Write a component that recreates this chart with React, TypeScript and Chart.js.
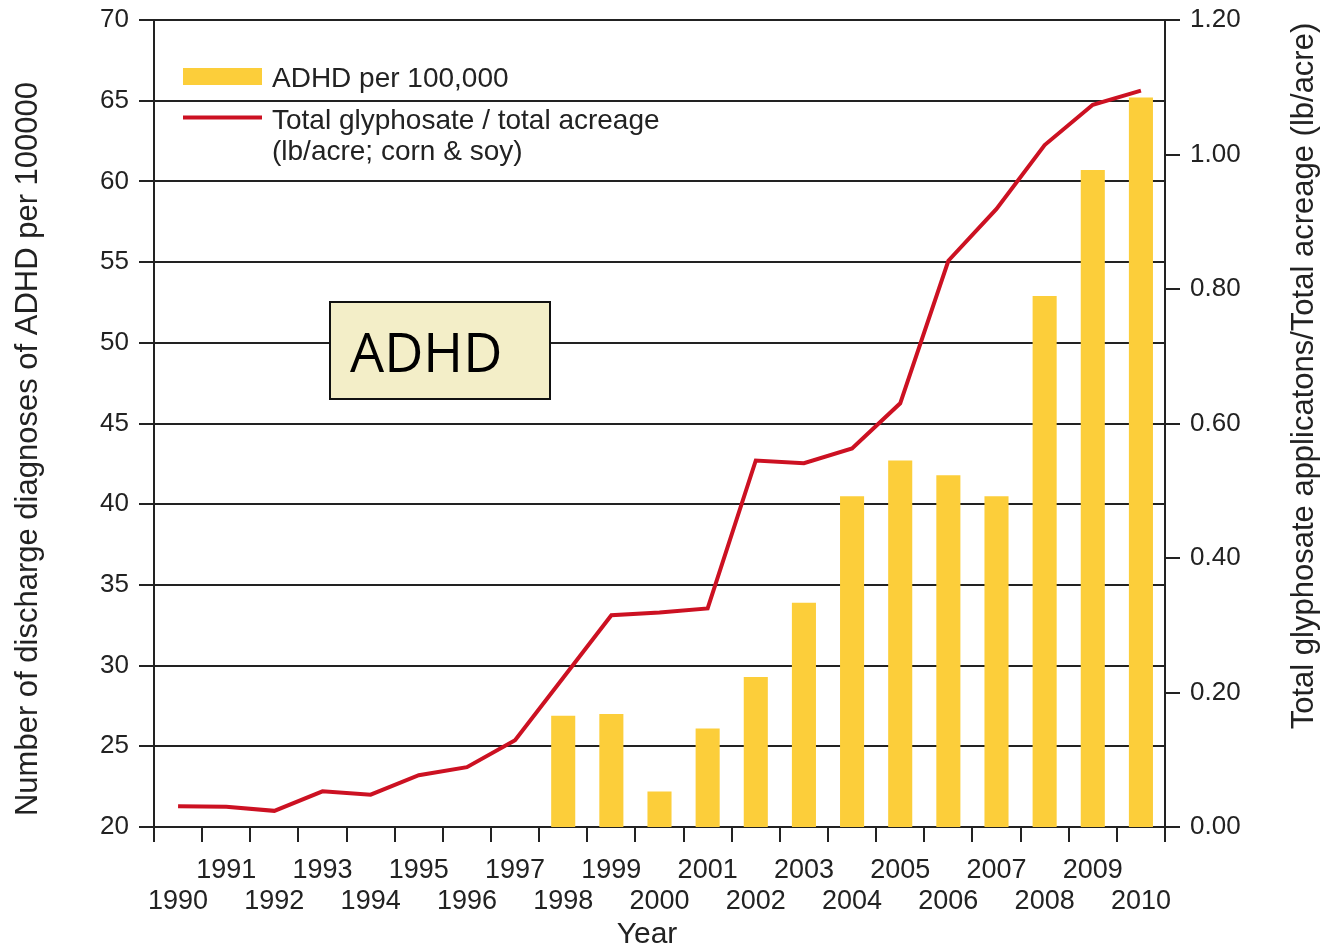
import React, { useEffect, useRef } from 'react';
import { Chart, registerables } from 'chart.js';

Chart.register(...registerables);

const years = [
  '1990', '1991', '1992', '1993', '1994', '1995', '1996', '1997', '1998', '1999', '2000',
  '2001', '2002', '2003', '2004', '2005', '2006', '2007', '2008', '2009', '2010',
];

const adhdPer100k = [
  null, null, null, null, null, null, null, null,
  26.9, 27.0, 22.2, 26.1, 29.3, 33.9, 40.5, 42.7, 41.8, 40.5, 52.9, 60.7, 65.2,
];

const glyphosatePerAcre = [
  0.031, 0.030, 0.024, 0.053, 0.048, 0.077, 0.089, 0.129, 0.222, 0.315, 0.319,
  0.325, 0.545, 0.541, 0.563, 0.630, 0.842, 0.919, 1.014, 1.074, 1.095,
];

const leftAxisRange = [20, 70, 5];
const rightAxisRange = [0, 1.2, 0.2];

const legendLabels = ['ADHD per 100,000', 'Total glyphosate / total acreage', '(lb/acre; corn & soy)'];
const leftTitle = 'Number of discharge diagnoses of ADHD per 100000';
const rightTitle = 'Total glyphosate applicatons/Total acreage (lb/acre)';
const xTitle = 'Year';
const boxLabel = 'ADHD';

const FONT = '"Liberation Sans", Arial, sans-serif';
const BAR_COLOR = '#FCCE3A';
const LINE_COLOR = '#CC1122';
const INK = '#222222';
const GRID = '#222222';

const overlayPlugin = {
  id: 'overlay',
  afterDraw(chart: any) {
    const ctx = chart.ctx as CanvasRenderingContext2D;
    ctx.save();
    // Legend
    ctx.fillStyle = BAR_COLOR;
    ctx.fillRect(183, 68, 79, 17);
    ctx.strokeStyle = LINE_COLOR;
    ctx.lineWidth = 4;
    ctx.beginPath();
    ctx.moveTo(183, 117.5);
    ctx.lineTo(262, 117.5);
    ctx.stroke();
    ctx.fillStyle = INK;
    ctx.font = `28px ${FONT}`;
    ctx.textAlign = 'left';
    ctx.textBaseline = 'alphabetic';
    ctx.fillText(legendLabels[0], 272, 87);
    ctx.fillText(legendLabels[1], 272, 129);
    ctx.fillText(legendLabels[2], 272, 160);

    // ADHD box
    ctx.fillStyle = '#F3EEC8';
    ctx.fillRect(330, 302, 220, 97);
    ctx.strokeStyle = '#111';
    ctx.lineWidth = 2;
    ctx.strokeRect(330, 302, 220, 97);
    ctx.fillStyle = '#000';
    ctx.font = `54px "Open Sans", "Noto Sans", sans-serif`;
    ctx.fillText(boxLabel, 350, 372);

    // Axis titles
    ctx.fillStyle = INK;
    ctx.font = `31px ${FONT}`;
    ctx.textAlign = 'center';
    ctx.save();
    ctx.translate(37, 449);
    ctx.rotate(-Math.PI / 2);
    ctx.fillText(leftTitle, 0, 0);
    ctx.restore();
    ctx.save();
    ctx.translate(1313, 376);
    ctx.rotate(-Math.PI / 2);
    ctx.fillText(rightTitle, 0, 0);
    ctx.restore();
    ctx.font = `30px ${FONT}`;
    ctx.fillText(xTitle, 647, 943);
    ctx.restore();
  },
};

export default function App() {
  const canvasRef = useRef<HTMLCanvasElement | null>(null);

  useEffect(() => {
    if (!canvasRef.current) return;
    const chart = new Chart(canvasRef.current, {
      type: 'bar',
      data: {
        labels: years,
        datasets: [
          {
            type: 'line',
            label: 'Total glyphosate / total acreage',
            data: glyphosatePerAcre,
            yAxisID: 'y1',
            borderColor: LINE_COLOR,
            borderWidth: 4,
            pointRadius: 0,
            tension: 0,
            fill: false,
            order: 0,
          } as any,
          {
            type: 'bar',
            label: 'ADHD per 100,000',
            data: adhdPer100k,
            yAxisID: 'y',
            backgroundColor: BAR_COLOR,
            borderWidth: 0,
            barPercentage: 0.5,
            categoryPercentage: 1,
            order: 1,
          },
        ],
      },
      options: {
        responsive: false,
        animation: false,
        layout: { padding: { top: 20, left: 0, right: 0, bottom: 0 } },
        plugins: {
          legend: { display: false },
          tooltip: { enabled: false },
          title: { display: false },
        },
        scales: {
          x: {
            type: 'category',
            offset: true,
            grid: {
              offset: true,
              drawOnChartArea: false,
              drawTicks: true,
              tickLength: 15,
              color: GRID,
              lineWidth: 2,
            },
            border: { display: true, color: GRID, width: 2 },
            ticks: {
              autoSkip: false,
              maxRotation: 0,
              minRotation: 0,
              padding: 13,
              color: INK,
              font: { family: FONT, size: 27, lineHeight: 31 / 27 },
              callback: function (this: any, value: any, index: number) {
                const lbl = years[index];
                return index % 2 === 1 ? [lbl, ''] : ['', lbl];
              },
            },
            afterFit(scale: any) {
              scale.height = 121;
              scale.paddingLeft = 0;
              scale.paddingRight = 0;
            },
          },
          y: {
            type: 'linear',
            position: 'left',
            min: leftAxisRange[0],
            max: leftAxisRange[1],
            grid: {
              drawOnChartArea: true,
              drawTicks: true,
              tickLength: 15,
              color: GRID,
              lineWidth: 2,
            },
            border: { display: true, color: GRID, width: 2 },
            ticks: {
              stepSize: leftAxisRange[2],
              padding: 10,
              color: INK,
              font: { family: FONT, size: 26 },
            },
            afterFit(scale: any) {
              scale.width = 154;
              scale.paddingTop = 0;
              scale.paddingBottom = 0;
            },
          },
          y1: {
            type: 'linear',
            position: 'right',
            min: rightAxisRange[0],
            max: rightAxisRange[1],
            grid: {
              drawOnChartArea: false,
              drawTicks: true,
              tickLength: 15,
              color: GRID,
              lineWidth: 2,
            },
            border: { display: true, color: GRID, width: 2 },
            ticks: {
              stepSize: rightAxisRange[2],
              padding: 10,
              color: INK,
              font: { family: FONT, size: 26 },
              callback: (v: any) => Number(v).toFixed(2),
            },
            afterFit(scale: any) {
              scale.width = 159;
              scale.paddingTop = 0;
              scale.paddingBottom = 0;
            },
          },
        },
      },
      plugins: [overlayPlugin],
    });
    return () => chart.destroy();
  }, []);

  return (
    <div style={{ position: 'absolute', left: 0, top: 0, width: 1324, height: 948, background: '#fff' }}>
      <canvas ref={canvasRef} width={1324} height={948} />
    </div>
  );
}
